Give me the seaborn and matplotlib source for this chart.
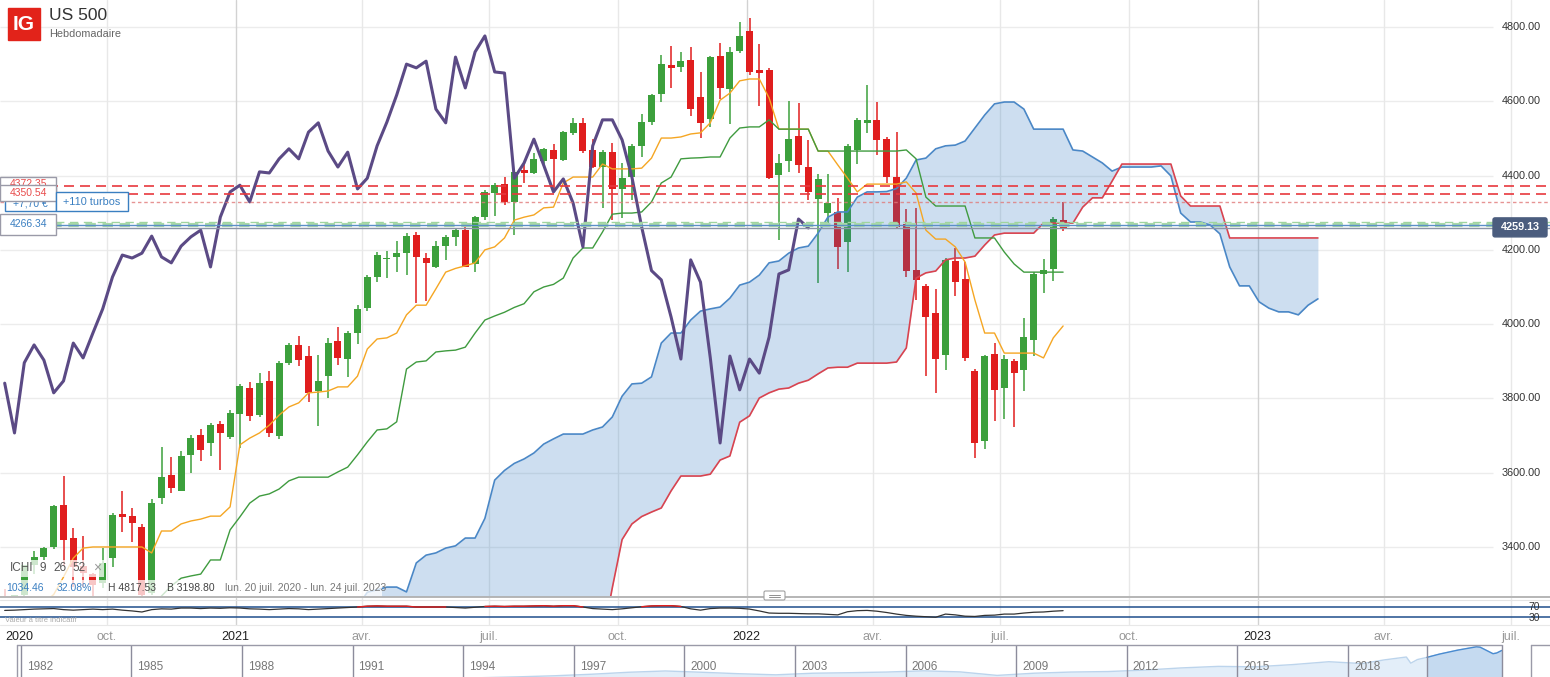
import numpy as np
import pandas as pd
import matplotlib
matplotlib.use("Agg")
import matplotlib.pyplot as plt
import matplotlib.dates as mdates
from matplotlib.patches import Rectangle, FancyBboxPatch
import seaborn as sns

# weekly candles US 500, from lun. 20 juil. 2020
weeks = pd.date_range("2020-07-20", periods=109, freq="7D")
opens = [3224, 3216, 3271, 3351, 3373, 3400, 3512, 3425, 3350, 3326,
         3303, 3370, 3489, 3484, 3454, 3276, 3531, 3594, 3552, 3648,
         3701, 3680, 3731, 3696, 3758, 3828, 3755, 3847, 3699, 3896,
         3944, 3914, 3820, 3860, 3955, 3906, 3976, 4043, 4127, 4175,
         4181, 4191, 4240, 4178, 4154, 4210, 4235, 4253, 4162, 4288,
         4353, 4377, 4329, 4415, 4407, 4440, 4469, 4442, 4515, 4542,
         4469, 4423, 4463, 4364, 4396, 4480, 4544, 4620, 4698, 4692,
         4711, 4612, 4552, 4722, 4633, 4735, 4789, 4684, 4684, 4402,
         4439, 4507, 4423, 4337, 4299, 4302, 4221, 4469, 4542, 4550,
         4498, 4395, 4270, 4146, 4103, 4030, 3917, 4170, 4121, 3874,
         3685, 3919, 3828, 3901, 3876, 3957, 4135, 4148, 4280]
highs = [3287, 3272, 3352, 3389, 3400, 3512, 3590, 3450, 3430, 3330,
         3397, 3492, 3551, 3505, 3462, 3529, 3668, 3642, 3658, 3701,
         3718, 3735, 3740, 3770, 3840, 3845, 3868, 3874, 3900, 3949,
         3968, 3940, 3917, 3963, 3992, 3982, 4051, 4131, 4194, 4197,
         4224, 4245, 4248, 4191, 4224, 4240, 4256, 4267, 4292, 4360,
         4380, 4396, 4412, 4431, 4461, 4474, 4486, 4520, 4555, 4555,
         4498, 4470, 4488, 4434, 4485, 4566, 4620, 4725, 4749, 4733,
         4746, 4679, 4722, 4757, 4745, 4813, 4824, 4754, 4690, 4458,
         4601, 4595, 4496, 4404, 4404, 4340, 4485, 4555, 4644, 4598,
         4505, 4517, 4310, 4313, 4108, 4095, 4178, 4205, 4168, 3880,
         3916, 3949, 3918, 3905, 4016, 4140, 4175, 4288, 4329]
lows = [3200, 3204, 3262, 3327, 3365, 3395, 3349, 3293, 3292, 3209,
        3290, 3346, 3440, 3413, 3233, 3270, 3516, 3545, 3550, 3599,
        3632, 3645, 3607, 3690, 3666, 3740, 3750, 3696, 3690, 3890,
        3887, 3790, 3726, 3800, 3890, 3858, 3946, 4035, 4113, 4124,
        4140, 4132, 4056, 4061, 4151, 4173, 4210, 4154, 4140, 4280,
        4291, 4320, 4240, 4380, 4404, 4430, 4360, 4440, 4510, 4462,
        4420, 4313, 4280, 4286, 4334, 4450, 4536, 4598, 4636, 4679,
        4560, 4501, 4530, 4606, 4539, 4730, 4672, 4587, 4390, 4226,
        4410, 4407, 4334, 4111, 4262, 4148, 4140, 4431, 4515, 4455,
        4380, 4255, 4128, 4065, 3860, 3815, 3876, 4076, 3901, 3640,
        3664, 3739, 3745, 3723, 3820, 3914, 4084, 4116, 4251]
closes = [3216, 3271, 3351, 3373, 3397, 3510, 3420, 3346, 3330, 3298,
          3357, 3485, 3482, 3465, 3272, 3518, 3588, 3559, 3645, 3693,
          3661, 3728, 3707, 3761, 3833, 3753, 3841, 3707, 3896, 3944,
          3903, 3815, 3847, 3949, 3909, 3976, 4041, 4127, 4186, 4178,
          4191, 4237, 4181, 4165, 4210, 4235, 4253, 4154, 4288, 4356,
          4374, 4329, 4410, 4407, 4445, 4472, 4445, 4517, 4542, 4466,
          4423, 4463, 4364, 4393, 4480, 4544, 4617, 4700, 4690, 4708,
          4579, 4542, 4719, 4636, 4733, 4776, 4679, 4676, 4393, 4434,
          4498, 4428, 4356, 4391, 4326, 4208, 4480, 4550, 4550, 4496,
          4396, 4261, 4144, 4119, 4019, 3906, 4173, 4113, 3909, 3680,
          3914, 3823, 3906, 3868, 3965, 4135, 4146, 4283, 4259]

# Ichimoku 9 / 26 / 52
tenkan = [3150, 3180, 3200, 3230, 3250, 3272, 3319, 3370, 3397, 3400,
          3400, 3400, 3400, 3400, 3400, 3384, 3443, 3443, 3462, 3470,
          3475, 3483, 3483, 3508, 3675, 3693, 3707, 3728, 3755, 3777,
          3788, 3815, 3817, 3820, 3831, 3831, 3860, 3933, 3960, 3963,
          3976, 4025, 4051, 4051, 4095, 4140, 4150, 4157, 4165, 4200,
          4208, 4232, 4280, 4288, 4294, 4313, 4315, 4380, 4396, 4396,
          4396, 4431, 4418, 4418, 4418, 4420, 4447, 4501, 4501, 4504,
          4512, 4515, 4542, 4603, 4622, 4655, 4660, 4660, 4609, 4525,
          4525, 4525, 4525, 4466, 4466, 4429, 4393, 4356, 4377, 4377,
          4377, 4377, 4383, 4353, 4253, 4229, 4229, 4208, 4167, 4065,
          3976, 3976, 3922, 3922, 3922, 3922, 3909, 3963, 3995]
kijun = [2950, 2950, 2980, 3000, 3000, 3050, 3080, 3100, 3120, 3150,
         3150, 3180, 3200, 3200, 3220, 3240, 3268, 3295, 3316, 3322,
         3327, 3365, 3365, 3446, 3481, 3518, 3537, 3543, 3556, 3578,
         3588, 3588, 3588, 3588, 3602, 3615, 3648, 3683, 3715, 3718,
         3737, 3879, 3898, 3901, 3925, 3928, 3930, 3938, 3976, 4011,
         4022, 4032, 4045, 4055, 4087, 4100, 4107, 4124, 4178, 4205,
         4205, 4248, 4296, 4299, 4299, 4302, 4329, 4380, 4396, 4445,
         4447, 4448, 4450, 4450, 4501, 4528, 4531, 4531, 4550, 4525,
         4525, 4525, 4525, 4466, 4466, 4466, 4466, 4466, 4466, 4466,
         4466, 4466, 4469, 4445, 4342, 4318, 4318, 4318, 4318, 4232,
         4232, 4232, 4194, 4162, 4140, 4140, 4140, 4140, 4140]
cloud_weeks = pd.date_range("2021-02-15", periods=105, freq="7D")
senkou_a = [3150, 3165, 3180, 3195, 3210, 3225, 3240, 3278, 3285, 3292,
            3292, 3279, 3357, 3378, 3384, 3397, 3403, 3424, 3424, 3477,
            3580, 3606, 3625, 3637, 3653, 3677, 3691, 3704, 3704, 3704,
            3715, 3723, 3750, 3806, 3839, 3841, 3858, 3949, 3976, 3976,
            4011, 4035, 4041, 4046, 4070, 4105, 4113, 4132, 4165, 4170,
            4191, 4205, 4210, 4245, 4288, 4302, 4302, 4342, 4356, 4356,
            4357, 4365, 4393, 4442, 4447, 4472, 4480, 4482, 4493, 4528,
            4563, 4593, 4598, 4598, 4579, 4525, 4525, 4525, 4525, 4469,
            4466, 4450, 4434, 4412, 4423, 4423, 4423, 4423, 4426, 4399,
            4299, 4275, 4275, 4267, 4243, 4154, 4103, 4103, 4060, 4043,
            4033, 4033, 4025, 4051, 4068]
senkou_b = [2950, 2950, 2950, 2950, 2950, 2950, 2950, 2950, 2950, 2950,
            2950, 2950, 2950, 2950, 2950, 2950, 3000, 3000, 3020, 3020,
            3050, 3050, 3080, 3080, 3100, 3100, 3120, 3120, 3130, 3140,
            3150, 3150, 3290, 3420, 3462, 3482, 3494, 3505, 3551, 3591,
            3591, 3591, 3596, 3634, 3645, 3736, 3753, 3801, 3815, 3825,
            3828, 3841, 3849, 3866, 3882, 3884, 3884, 3895, 3895, 3895,
            3895, 3898, 3936, 4124, 4138, 4143, 4173, 4178, 4178, 4183,
            4213, 4240, 4245, 4245, 4245, 4245, 4272, 4272, 4272, 4272,
            4315, 4340, 4340, 4385, 4431, 4431, 4431, 4431, 4431, 4431,
            4345, 4318, 4318, 4318, 4318, 4232, 4232, 4232, 4232, 4232,
            4232, 4232, 4232, 4232, 4232]

rsi = [57, 58, 60, 62, 63, 64, 60, 58, 60, 62,
       60, 62, 58, 55, 51, 60, 63, 62, 66, 66,
       64, 66, 65, 67, 66, 63, 62, 60, 62, 64,
       63, 60, 62, 64, 66, 68, 70, 73, 74, 73,
       73, 73, 70, 70, 70, 70, 68, 66, 69, 72,
       73, 72, 73, 73, 74, 75, 73, 75, 75, 70,
       64, 62, 60, 63, 67, 71, 74, 75, 75, 72,
       63, 58, 64, 66, 66, 65, 62, 55, 47, 46,
       46, 45, 44, 44, 42, 40, 52, 56, 57, 54,
       49, 43, 38, 35, 33, 31, 43, 40, 35, 34,
       38, 39, 43, 43, 47, 50, 51, 54, 56]

price_levels = [4372.35, 4350.54]
turbo_level = 4328
stop_levels = [4276, 4268]
entry_level = 4266.34
last_price = 4259.13
y_ticks = [3400, 3600, 3800, 4000, 4200, 4400, 4600, 4800]

quarters = pd.date_range("2020-10-01", "2023-07-01", freq="QS")
quarter_labels = ["oct.", "2021", "avr.", "juil.", "oct.", "2022", "avr.", "juil.",
                  "oct.", "2023", "avr.", "juil."]

nav_years = [1982, 1983, 1984, 1985, 1986, 1987, 1988, 1989, 1990, 1991,
             1992, 1993, 1994, 1995, 1996, 1997, 1998, 1999, 2000, 2001,
             2002, 2003, 2004, 2005, 2006, 2007, 2008, 2009, 2010, 2011,
             2012, 2013, 2014, 2015, 2016, 2017, 2018, 2018.9, 2019.5, 2020.1,
             2020.22, 2020.4, 2020.66, 2021.0, 2021.5, 2022.0, 2022.1, 2022.45,
             2022.55, 2022.69]
nav_values = [120, 145, 165, 180, 210, 280, 260, 300, 340, 340,
              410, 440, 465, 500, 620, 770, 980, 1250, 1430, 1250,
              1050, 900, 1120, 1190, 1280, 1450, 1300, 820, 1120, 1280,
              1350, 1550, 1850, 2060, 2000, 2300, 2700, 2450, 2950, 3350,
              2500, 3000, 3300, 3750, 4300, 4750, 4700, 3800,
              3900, 4250]
nav_labels = [1982, 1985, 1988, 1991, 1994, 1997, 2000, 2003, 2006, 2009,
              2012, 2015, 2018]

GREEN = "#3ca03c"
RED = "#e01e1e"

sns.set_theme(style="white")
plt.rcParams["font.family"] = ["Liberation Sans", "DejaVu Sans"]

W, H = 1550, 677
PX_DAY = 1.4
X0 = mdates.date2num(pd.Timestamp("2021-01-01")) - 235.7 / PX_DAY
X1 = X0 + W / PX_DAY
Y0, Y1 = 3268.0, 4872.7


def xd(px):
    return X0 + px / PX_DAY


def xpx(d):
    return (mdates.date2num(pd.Timestamp(d)) - X0) * PX_DAY


def ypx(p):
    return (Y1 - p) / (Y1 - Y0) * 596


fig = plt.figure(figsize=(W / 100, H / 100), dpi=100)
ax = fig.add_axes([0, 81 / H, 1, 596 / H])
ax2 = fig.add_axes([0, 51 / H, 1, 28 / H])
ax3 = fig.add_axes([0, 0, 1, 32 / H])
ov = fig.add_axes([0, 0, 1, 1])
ov.set_zorder(10)

# grid
for q in quarters:
    gc = "#d2d2d2" if q.month == 1 else "#e8e8e8"
    ax.axvline(q, color=gc, lw=1, zorder=0.5)
    ax2.axvline(q, color=gc, lw=1, zorder=0.5)
ax.hlines(y_ticks, xd(0), xd(1493), color="#ececec", lw=1, zorder=0.4)

# candles
o, hi, lo, c = map(np.array, (opens, highs, lows, closes))
cols = np.where(c >= o, GREEN, RED)
ax.vlines(weeks, lo, hi, colors=cols, lw=1.1, zorder=2)
ax.bar(weeks, np.maximum(np.abs(c - o), 3), bottom=np.minimum(o, c), width=5,
       color=cols, lw=0, zorder=2.1)

# cloud
ax.fill_between(cloud_weeks, senkou_a, senkou_b, color="#2774bf", alpha=0.23, lw=0, zorder=3)
sns.lineplot(x=cloud_weeks, y=senkou_a, ax=ax, color="#4a87c6", lw=1.2, zorder=3.5)
sns.lineplot(x=cloud_weeks, y=senkou_b, ax=ax, color="#d9434f", lw=1.2, zorder=3.5)
sns.lineplot(x=weeks, y=tenkan, ax=ax, color="#f5a623", lw=1.0, zorder=4)
sns.lineplot(x=weeks, y=kijun, ax=ax, color="#3f9b3f", lw=1.0, zorder=4)
# lagging span: closes drawn 26 weeks back
sns.lineplot(x=weeks[:-26], y=closes[26:], ax=ax, color="#5b4a85", lw=2.2, zorder=5)

# order levels
for lv in price_levels:
    ax.axhline(lv, color="#e8383d", lw=1.2, ls=(0, (6, 3.6)), zorder=6)
ax.axhline(turbo_level, color="#e07a7a", lw=1.0, ls=(0, (2.5, 2)), alpha=0.8, zorder=6)
ax.axhline(stop_levels[0], color="#9fd49f", lw=1.0, ls=(0, (6, 4)), zorder=6)
ax.axhline(stop_levels[1], color="#a8d8a8", lw=3.0, ls=(0, (2.5, 1.6)), zorder=6)
ax.axhline(entry_level, color="#5b8fc8", lw=1.0, zorder=6.1)
ax.axhline(last_price, color="#8a94a8", lw=1.0, zorder=6.1)

for v in y_ticks:
    ax.text(xd(1502), v, f"{v:.2f}", ha="left", va="center", fontsize=7.8, color="#333333", zorder=8)

ax.set_xlim(X0, X1)
ax.set_ylim(Y0, Y1)
ax.set_axis_off()

# RSI strip
ax2.axhline(70, color="#1f4e8c", lw=1.1, zorder=2)
ax2.axhline(30, color="#1f4e8c", lw=1.1, zorder=2)
r = np.array(rsi, dtype=float)
sns.lineplot(x=weeks, y=rsi, ax=ax2, color="#333333", lw=0.9, zorder=3)
ax2.plot(weeks, np.where(r >= 70, r, np.nan), color="#e02020", lw=1.0, zorder=4)
ax2.set_xlim(X0, X1)
ax2.set_ylim(-2.4, 104.3)
ax2.set_axis_off()

# navigator
ny, nv = np.array(nav_years), np.array(nav_values)
ax3.fill_between(ny, nv, 0, color="#e3eef9", lw=0, zorder=1)
ax3.plot(ny, nv, color="#bcd4ec", lw=1, zorder=2)
win = ny >= 2020.66
ax3.fill_between(ny[win], nv[win], 0, color="#c5daf0", lw=0, zorder=2.5)
ax3.plot(ny[win], nv[win], color="#4a8bd0", lw=1, zorder=3)
for yr in nav_labels:
    ax3.axvline(yr + 0.52, color="#8c8c9c", lw=1, zorder=4)
    ax3.text(yr + 0.68, 0.3, str(yr), transform=ax3.get_xaxis_transform(),
             fontsize=8.5, color="#777777", ha="left", va="center", zorder=5)
ax3.axvline(2020.66, color="#8c8c9c", lw=1, zorder=4)
ax3.axvline(2022.69, color="#8c8c9c", lw=1, zorder=4)
ax3.set_xlim(1981.957, 2023.996)
ax3.set_ylim(600, 5000)
ax3.set_axis_off()

# overlay: header, labels, boxes
ov.set_xlim(0, W)
ov.set_ylim(H, 0)
ov.set_axis_off()

ov.add_patch(Rectangle((8, 8), 32, 32, color="#e2231a"))
ov.text(24, 25, "IG", color="white", fontsize=15, fontweight="bold", ha="center", va="center")
ov.text(49, 16, "US 500", color="#333333", fontsize=12.5, ha="left", va="center")
ov.text(49, 34, "Hebdomadaire", color="#666666", fontsize=7.8, ha="left", va="center")

# left level boxes
y1, y2, y5 = ypx(price_levels[0]), ypx(price_levels[1]), ypx(entry_level)
ov.add_patch(Rectangle((0, y1 - 9), 56, 18, fc="white", ec="#9a9aa8", lw=1, zorder=2))
ov.text(28, y1 - 2, f"{price_levels[0]:.2f}", color="#e84c4c", fontsize=7.5, ha="center", va="center", zorder=2)
ov.add_patch(Rectangle((5, 192), 51, 19, fc="white", ec="#3a7fc1", lw=1, zorder=2.5))
ov.text(30, 203, "+7,70 €", color="#3a7fc1", fontsize=7.5, ha="center", va="center", zorder=2.5)
ov.add_patch(Rectangle((0, y2 - 9), 56, 16, fc="white", ec="#9a9aa8", lw=1, zorder=3))
ov.text(28, y2 - 1, f"{price_levels[1]:.2f}", color="#e84c4c", fontsize=7.5, ha="center", va="center", zorder=3)
ov.add_patch(Rectangle((56, 192), 72, 19, fc="white", ec="#3a7fc1", lw=1, zorder=3))
ov.text(92, 202, "+110 turbos", color="#3a7fc1", fontsize=7.8, ha="center", va="center", zorder=3)
ov.add_patch(Rectangle((0, y5 - 11), 56, 21, fc="white", ec="#9a9aa8", lw=1, zorder=3))
ov.text(28, y5 - 1, f"{entry_level:.2f}", color="#3a7fc1", fontsize=7.5, ha="center", va="center", zorder=3)

# last price tag
ov.add_patch(FancyBboxPatch((1493, ypx(last_price) - 10), 54, 19,
                            boxstyle="round,pad=0,rounding_size=2", fc="#4b5d7e", ec="#4b5d7e"))
ov.text(1520, ypx(last_price) - 0.5, f"{last_price:.2f}", color="white", fontsize=7.8,
        fontweight="bold", ha="center", va="center")

# indicator legend
ov.add_patch(Rectangle((0, 560), 104, 17, fc="white", alpha=0.75, lw=0, zorder=1))
ov.add_patch(Rectangle((0, 580), 382, 17, fc="white", alpha=0.75, lw=0, zorder=1))
for tx, xx, cc, fs in [("ICHI", 10, "#555555", 8.5), ("9", 40, "#555555", 8.5),
                       ("26", 53, "#555555", 8.5), ("52", 72, "#555555", 8.5),
                       ("×", 93, "#999999", 10)]:
    ov.text(xx, 568, tx, color=cc, fontsize=fs, ha="left", va="center", zorder=2)
for tx, xx, cc in [("1034.46", 6, "#3a7fc1"), ("32.08%", 57, "#3a7fc1"),
                   ("H 4817.53", 108, "#444444"), ("B 3198.80", 167, "#444444"),
                   ("lun. 20 juil. 2020 - lun. 24 juil. 2023", 225, "#777777")]:
    ov.text(xx, 588, tx, color=cc, fontsize=7.5, ha="left", va="center", zorder=2)

# chart handle
ov.add_patch(FancyBboxPatch((764, 591), 21, 9, boxstyle="round,pad=0,rounding_size=1.5",
                            fc="white", ec="#a0a0a0", lw=0.8, zorder=3))
ov.plot([769, 780], [594.5, 594.5], color="#909090", lw=0.7, zorder=4)
ov.plot([769, 780], [597, 597], color="#909090", lw=0.7, zorder=4)

# panel separators
ov.plot([0, W], [596.5, 596.5], color="#b0b0b0", lw=1.3)
ov.plot([0, W], [600, 600], color="#e4e4e4", lw=0.8)
ov.plot([0, W], [625, 625], color="#e8e8e8", lw=0.8)
ov.text(5, 620, "Valeur à titre indicatif", color="#aaaaaa", fontsize=5.5, ha="left", va="center")
ov.text(1540, 607, "70", color="#333333", fontsize=7.5, ha="right", va="center")
ov.text(1540, 618, "30", color="#333333", fontsize=7.5, ha="right", va="center")

# time axis labels
ov.text(5, 637, "2020", color="#222222", fontsize=9, ha="left", va="center")
for q, lab in zip(quarters, quarter_labels):
    is_year = lab.isdigit()
    ov.text(xpx(q), 637, lab, color="#222222" if is_year else "#999999",
            fontsize=9, ha="center", va="center")

# navigator frame
ov.plot([17, 1502], [645, 645], color="#9a9aa8", lw=1)
ov.plot([17, 17], [645, H], color="#9a9aa8", lw=1)
ov.plot([1531, W], [645, 645], color="#9a9aa8", lw=1)
ov.plot([1531, 1531], [645, H], color="#9a9aa8", lw=1)

fig.savefig("out.png", dpi=100)
